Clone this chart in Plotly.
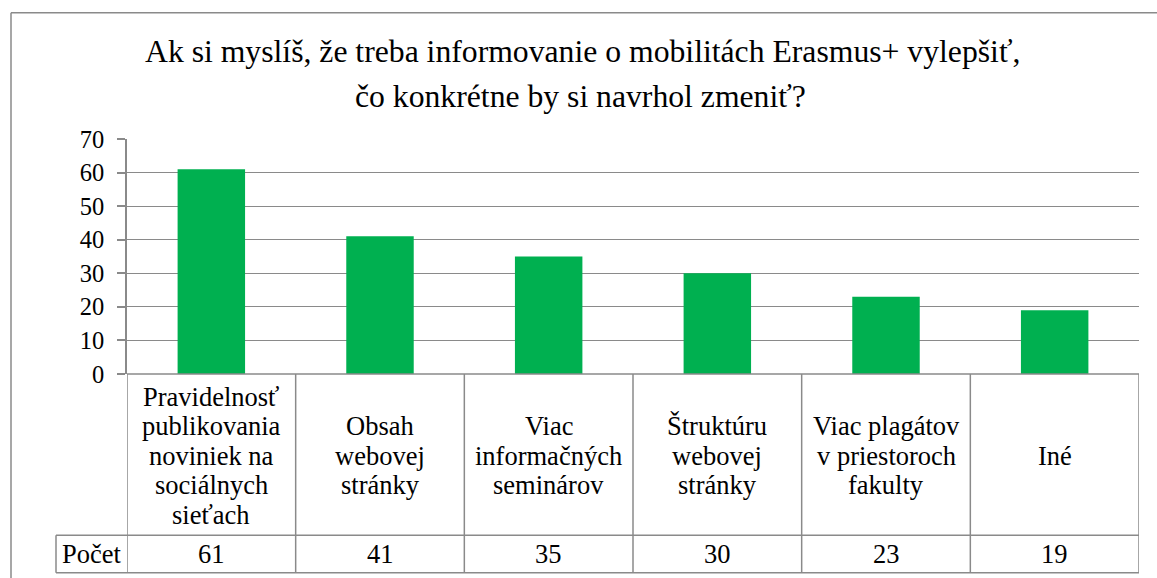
import plotly.graph_objects as go

categories = [
    "Pravidelnosť<br>publikovania<br>noviniek na<br>sociálnych<br>sieťach",
    "Obsah<br>webovej<br>stránky",
    "Viac<br>informačných<br>seminárov",
    "Štruktúru<br>webovej<br>stránky",
    "Viac plagátov<br>v priestoroch<br>fakulty",
    "Iné",
]
values = [61, 41, 35, 30, 23, 19]
series_name = "Počet"
y_ticks = [0, 10, 20, 30, 40, 50, 60, 70]
title_lines = [
    "Ak si myslíš, že treba informovanie o mobilitách Erasmus+ vylepšiť,",
    "čo konkrétne by si navrhol zmeniť?",
]

W, H = 1157, 578
L, R, T, B = 127, 18, 139, 203.7
PW = W - L - R
PH = H - T - B
Y0 = T + PH  # pixel y of value 0


def px(xp):
    return (xp - L) / PW


def py(yp):
    return (Y0 - yp) / PH


FONT = "Liberation Serif"
GRAY = "#8a8a8a"
GREEN = "#00B050"
TXT = 26.5
LINE_H = 29.5

fig = go.Figure()
fig.add_trace(go.Bar(
    x=list(range(len(values))),
    y=values,
    marker=dict(color=GREEN, line=dict(width=0)),
    name=series_name,
    showlegend=False,
))

shapes = []
row_top = py(535.7)
row_bot = py(573.3)
for i in range(len(categories) + 1):
    shapes.append(dict(type="line", xref="x", yref="paper", x0=i - 0.5, x1=i - 0.5,
                       y0=0, y1=row_bot, line=dict(color=GRAY, width=1.5)))
shapes.append(dict(type="line", xref="paper", yref="paper", x0=0, x1=1, y0=0, y1=0,
                   line=dict(color=GRAY, width=1.5)))
for yy in (row_top, row_bot):
    shapes.append(dict(type="line", xref="paper", yref="paper", x0=px(56), x1=1, y0=yy, y1=yy,
                       line=dict(color=GRAY, width=1.5)))
shapes.append(dict(type="line", xref="paper", yref="paper", x0=px(56), x1=px(56), y0=row_top, y1=row_bot,
                   line=dict(color=GRAY, width=1.5)))
shapes.append(dict(type="line", xref="paper", yref="paper", x0=px(11), x1=px(1170), y0=py(12.5), y1=py(12.5),
                   line=dict(color=GRAY, width=1.5)))
shapes.append(dict(type="line", xref="paper", yref="paper", x0=px(11), x1=px(11), y0=py(12.5), y1=py(600),
                   line=dict(color=GRAY, width=1.5)))

annotations = []
cell_mid = 456
for i, (c, v) in enumerate(zip(categories, values)):
    parts = c.split("<br>")
    n = len(parts)
    for k, part in enumerate(parts):
        yc = cell_mid + (k - (n - 1) / 2) * LINE_H
        annotations.append(dict(x=i, xref="x", y=py(yc), yref="paper", text=part, showarrow=False,
                                xanchor="center", yanchor="middle", align="center",
                                font=dict(family=FONT, size=TXT, color="black")))
    annotations.append(dict(x=i, xref="x", y=py(554.5), yref="paper", text=str(v), showarrow=False,
                            xanchor="center", yanchor="middle",
                            font=dict(family=FONT, size=TXT, color="black")))
annotations.append(dict(x=px(91.5), xref="paper", y=py(554.5), yref="paper", text=series_name,
                        showarrow=False, xanchor="center", yanchor="middle",
                        font=dict(family=FONT, size=TXT, color="black")))
for yc, (xc, line) in zip((51, 96), zip((582, 580), title_lines)):
    annotations.append(dict(x=px(xc), xref="paper", y=py(yc), yref="paper", text=line,
                            showarrow=False, xanchor="center", yanchor="middle",
                            font=dict(family=FONT, size=31.7, color="black")))

fig.update_layout(
    width=W, height=H,
    margin=dict(l=L, r=R, t=T, b=B, pad=0),
    paper_bgcolor="white", plot_bgcolor="white",
    bargap=0.6,
    showlegend=False,
    xaxis=dict(range=[-0.5, len(values) - 0.5], showticklabels=False, showgrid=False,
               zeroline=False, showline=False, ticks=""),
    yaxis=dict(range=[0, 70], tickvals=y_ticks, showgrid=True, gridcolor=GRAY, gridwidth=1.3,
               zeroline=False, showline=True, linecolor=GRAY, linewidth=1.5,
               ticks="outside", ticklen=8, tickwidth=1.5, tickcolor=GRAY,
               ticklabelstandoff=8,
               tickfont=dict(family=FONT, size=24.5, color="black")),
    shapes=shapes,
    annotations=annotations,
    font=dict(family=FONT),
)

fig.write_html("out.html", config={"displayModeBar": False},
               post_script="document.body.style.margin='0';document.body.style.padding='0';")
